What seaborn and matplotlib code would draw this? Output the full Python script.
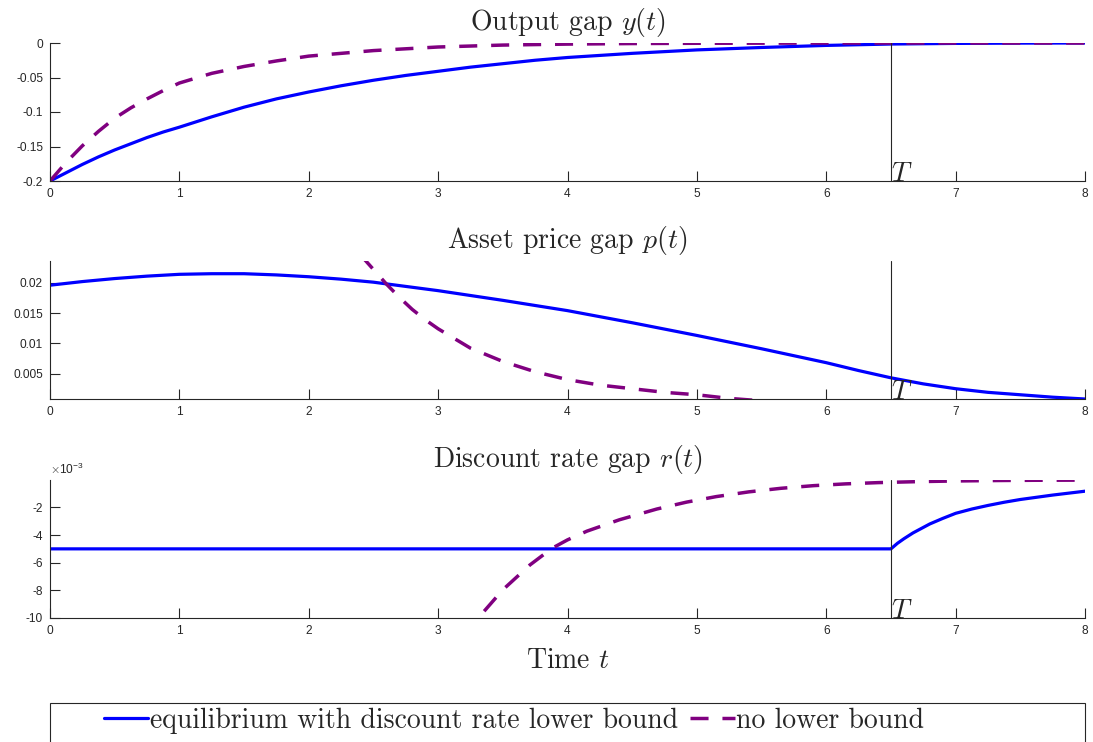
import matplotlib
matplotlib.use("Agg")
import matplotlib.pyplot as plt
import seaborn as sns
from matplotlib.ticker import FuncFormatter
from matplotlib.lines import Line2D
from matplotlib.patches import Rectangle

# ---------------- data ----------------
T_SWITCH = 6.5

# Output gap y(t)
t_y_eq = [0, 0.125, 0.25, 0.375, 0.5, 0.625, 0.75, 0.875, 1, 1.25, 1.5, 1.75, 2, 2.25, 2.5,
          2.75, 3, 3.25, 3.5, 3.75, 4, 4.5, 5, 5.5, 6, 6.5, 7, 7.5, 8]
y_eq = [-0.2, -0.188, -0.176, -0.165, -0.155, -0.146, -0.137, -0.129, -0.122, -0.107, -0.093,
        -0.081, -0.071, -0.062, -0.054, -0.047, -0.041, -0.035, -0.030, -0.025, -0.021, -0.015,
        -0.010, -0.0065, -0.0035, -0.0015, -0.0006, -0.0002, 0.0]
t_y_nb = [0, 0.125, 0.25, 0.375, 0.5, 0.625, 0.75, 0.875, 1, 1.25, 1.5, 1.75, 2, 2.5, 3, 3.5,
          4, 4.5, 5, 6, 7, 8]
y_nb = [-0.2, -0.173, -0.149, -0.128, -0.109, -0.094, -0.081, -0.069, -0.058, -0.044, -0.034,
        -0.026, -0.019, -0.011, -0.0058, -0.003, -0.0016, -0.0008, -0.0004, -0.0001, 0.0, 0.0]

# Asset price gap p(t)
t_p_eq = [0, 0.25, 0.5, 0.75, 1, 1.25, 1.5, 1.75, 2, 2.25, 2.5, 2.75, 3, 3.5, 4, 4.5, 5, 5.5,
          6, 6.25, 6.5, 6.75, 7, 7.25, 7.5, 7.75, 8]
p_eq = [0.0196, 0.0202, 0.0207, 0.0211, 0.0214, 0.0215, 0.0215, 0.0213, 0.0210, 0.0206, 0.0201,
        0.0194, 0.0187, 0.0171, 0.0154, 0.0134, 0.0113, 0.0091, 0.0068, 0.0055, 0.0043, 0.0033,
        0.0025, 0.0019, 0.0015, 0.0011, 0.0008]
t_p_nb = [2.40, 2.5, 2.6, 2.7, 2.8, 2.9, 3.0, 3.25, 3.5, 3.75, 4.0, 4.25, 4.5, 4.75, 5.0, 5.25,
          5.5, 6.0, 7.0, 8.0]
p_nb = [0.0246, 0.0222, 0.0198, 0.0176, 0.0156, 0.0139, 0.0124, 0.0092, 0.0070, 0.0053, 0.0040,
        0.0031, 0.0025, 0.0019, 0.0015, 0.0009, 0.0005, 0.0003, 0.0001, 0.00003]

# Discount rate gap r(t), in units of 1e-3
t_r_eq = [0, 6.5, 6.55, 6.6, 6.67, 6.8, 6.9, 7.0, 7.125, 7.25, 7.375, 7.5, 7.75, 8]
r_eq = [-5.0, -5.0, -4.60, -4.27, -3.85, -3.20, -2.80, -2.43, -2.12, -1.86, -1.63, -1.43,
        -1.11, -0.83]
t_r_nb = [3.2, 3.31, 3.5, 3.71, 3.88, 4.0, 4.15, 4.40, 4.69, 4.92, 5.15, 5.40, 5.65, 5.90,
          6.15, 6.40, 6.70, 7.0, 7.3, 7.6, 8.0]
r_nb = [-11.3, -10.0, -7.96, -6.16, -4.96, -4.35, -3.72, -2.90, -2.12, -1.62, -1.22, -0.88,
        -0.62, -0.43, -0.30, -0.21, -0.14, -0.09, -0.06, -0.04, -0.03]

titles = [r"Output gap $y(t)$", r"Asset price gap $p(t)$", r"Discount rate gap $r(t)$"]
legend_labels = ["equilibrium with discount rate lower bound", "no lower bound"]
x_label = r"Time $t$"

# ---------------- style ----------------
sns.set_theme(style="white")
plt.rcParams.update({
    "font.family": ["Liberation Sans", "DejaVu Sans"],
    "mathtext.fontset": "cm",
    "axes.unicode_minus": False,
    "axes.edgecolor": "#262626",
    "axes.linewidth": 0.8,
})

BLUE = "#0000FF"
PURPLE = "#800080"
GRAY = "#262626"
SERIF = "cmr10"
BIG = 20

fig = plt.figure(figsize=(10.93, 7.42), dpi=100)
W, H = 1093.0, 742.0
left = 50 / W
width = 1035 / W
tops = [43, 261, 480]
bottoms = [181, 399, 618]
axes = [fig.add_axes([left, 1 - b / H, width, (b - t) / H]) for t, b in zip(tops, bottoms)]

panels = [
    (t_y_eq, y_eq, t_y_nb, y_nb, (-0.2, 0.0), [-0.2, -0.15, -0.1, -0.05, 0]),
    (t_p_eq, p_eq, t_p_nb, p_nb, (0.0008, 0.0236), [0.005, 0.01, 0.015, 0.02]),
    (t_r_eq, r_eq, t_r_nb, r_nb, (-10.0, -0.02), [-10, -8, -6, -4, -2]),
]

for ax, (te, ve, tn, vn, ylim, yticks), title in zip(axes, panels, titles):
    sns.lineplot(x=te, y=ve, ax=ax, color=BLUE, linewidth=2.3, estimator=None, sort=False)
    sns.lineplot(x=tn, y=vn, ax=ax, color=PURPLE, linewidth=2.5, estimator=None, sort=False)
    ax.lines[-1].set_dashes((5.2, 4.0))
    ax.axvline(T_SWITCH, color=GRAY, linewidth=0.8)
    ax.set_xlim(0, 8)
    ax.set_ylim(*ylim)
    ax.set_xticks(range(9))
    ax.set_yticks(yticks)
    ax.xaxis.set_major_formatter(FuncFormatter(lambda v, p: f"{v:g}"))
    ax.yaxis.set_major_formatter(FuncFormatter(lambda v, p: f"{v:g}"))
    ax.tick_params(direction="in", length=7.5, width=0.8, colors=GRAY, labelsize=8.6, pad=5,
                   left=True, bottom=True)
    for s in ("top", "right"):
        ax.spines[s].set_visible(False)
    ax.set_title(title, fontfamily=SERIF, fontsize=BIG, pad=9.5)
    ax.text(T_SWITCH, ylim[0], r"$T$", fontsize=BIG, ha="left", va="baseline")
    ax.set_xlabel("")
    ax.set_ylabel("")

axes[2].text(0.0, 1.025, r"$\times\mathdefault{10^{-3}}$", transform=axes[2].transAxes,
             ha="left", va="bottom", fontsize=8.6, color=GRAY)
axes[2].set_xlabel(x_label, fontfamily=SERIF, fontsize=BIG, labelpad=8)

# legend box + entries
fig.patches.append(Rectangle((50 / W, -0.1), 1035 / W, 0.1 + 1 - 703 / H,
                             transform=fig.transFigure, fill=False,
                             edgecolor=GRAY, linewidth=0.8))
handles = [Line2D([], [], color=BLUE, linewidth=2.3),
           Line2D([], [], color=PURPLE, linewidth=2.5, dashes=(5.2, 4.0))]
fig.legend(handles, legend_labels, loc="center left",
           bbox_to_anchor=(104 / W, 1 - 721 / H), ncol=2, frameon=False,
           handlelength=1.6, handletextpad=0.05, columnspacing=0.45,
           borderpad=0, borderaxespad=0, prop={"family": SERIF, "size": BIG})

fig.savefig("out.png", dpi=100)
